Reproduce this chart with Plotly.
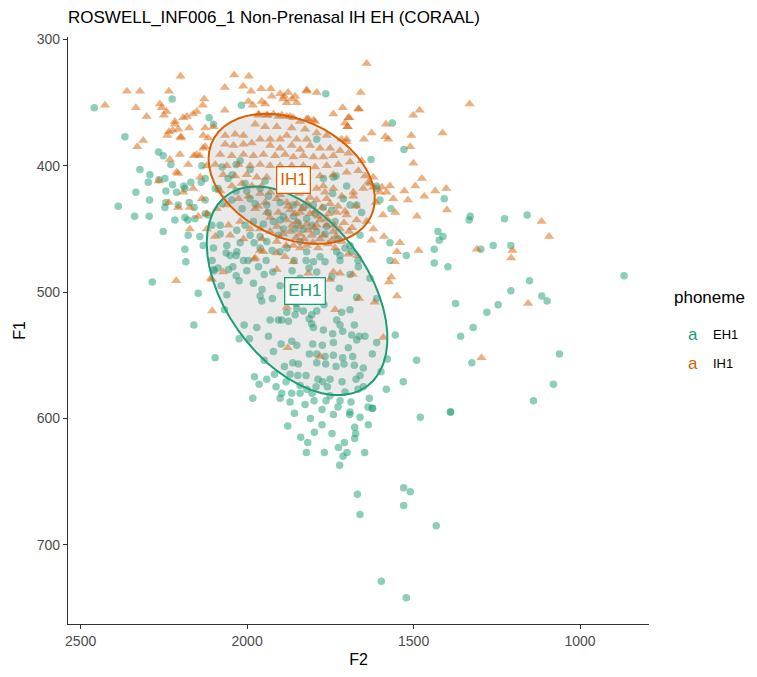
import numpy as np
import plotly.graph_objects as go

TITLE = "ROSWELL_INF006_1 Non-Prenasal IH EH (CORAAL)"
PHONEMES = ["EH1", "IH1"]
COLORS = {"EH1": "#1B9E77", "IH1": "#D95F02"}
X_TICKS = [2500, 2000, 1500, 1000]
Y_TICKS = [300, 400, 500, 600, 700]
ELLIPSE_LEVEL = 0.55

# IH1 tokens: (F2, F1) in Hz
ih_f2 = [2200, 2039, 1995, 2361, 2322, 2235, 2067, 2012, 1988, 1958, 1929, 1901, 1877, 1865, 1892, 1821, 1791,
         2427, 2334, 2262, 2257, 2242, 2302, 2250, 2129, 2133, 2151, 2181, 2192, 2067, 1996, 1965, 1939, 1906,
         1871, 1821, 1801, 1696, 1666, 1698, 2217, 2235, 2207, 2174, 2126, 2199, 2240, 2312, 2330, 2126, 2132,
         2117, 2160, 2142, 2177, 2207, 2265, 2235,
         1641, 1659, 1664, 1482, 1501, 1332, 1693, 1699, 1583, 1626, 1585, 1649, 1701, 1507, 1413, 1510, 1656,
         1501, 1475, 1646, 1621, 1631, 1571, 1595, 1495, 1528, 1581, 1435, 1402, 1468, 1517, 1613, 1555, 1400,
         1592, 1490, 1116, 1681,
         1093, 1310, 1203, 1207, 1485, 1550, 1556, 1589, 1626, 1669, 1696, 1567, 1574, 1550, 1617, 1664, 1683,
         1156, 1296, 1591,
         2172, 2213, 2105, 2072, 2106, 1878, 1881, 1979, 1951,
         2109, 1976, 1911, 1736, 1781, 1741, 1721, 1816, 1751, 1961, 1911, 1886, 1861,
         2162, 2217, 2224, 2199, 2101, 1956, 1983, 1946, 1926, 1889, 1881, 1856, 1851, 1821, 1713, 1706, 1741,
         1796, 1816, 1841, 1861, 1881, 1896, 1921, 1941, 1966, 1976, 1946, 1911, 1866, 1826, 1791, 1761, 1716,
         1701, 1576, 2066, 2036, 2011, 2066, 2041, 2011, 1986, 1961, 1931, 1901, 1881, 1851, 1821, 1931, 1901,
         1866, 1841, 1811, 1781, 1751, 1721, 1696, 1741, 1771, 1801, 1831, 1861, 1886, 1916, 1951, 1981, 2011,
         2046, 2081, 2096, 2061, 2026, 1991, 1961, 1931, 1901, 1866, 1831, 1796, 1761, 1726, 1691, 1666, 1701,
         1741, 1781, 2072, 2036, 2001, 1971, 1941, 2016, 1986, 1956, 2046, 2081, 2026, 1996, 1961, 1931, 1911,
         1881, 1851, 1821, 1791, 1761, 1791, 1771, 1741, 1716, 1681, 1651, 1636, 1621, 1601, 1561, 1976, 1941,
         1906, 1871, 1841, 1811, 1786, 1756, 1731, 1701, 1671, 1881, 1851, 1821, 1791, 1761, 1721, 1871, 1841,
         1806, 1771, 1746, 1716, 1741, 1931, 1961, 1991, 1911, 1861, 1821, 2207, 2172, 2192, 2212, 2232, 2202,
         2152, 2132, 2121, 2141, 2162, 2136, 2147, 2121, 2091, 2061, 2121, 2056, 2021, 2051, 2096, 2011, 1641,
         1621, 1541,
         1877, 1856, 1835, 1814, 1796, 1775, 1751, 1727, 1865, 1841, 1817, 1799, 1781, 1760, 1739, 1709, 1853,
         1829, 1802, 1781, 1757, 1733, 1694, 1685, 1892, 1910, 1931, 1946, 1967, 1901, 1844, 1811, 1766, 1706,
         1673, 1787, 1841, 1883, 1736, 1955]
ih_f1 = [329, 328, 329, 341, 341, 341, 338, 337, 341, 339, 339, 343, 342, 347, 347, 340, 342,
         352, 354, 351, 354, 357, 361, 360, 347, 352, 357, 361, 362, 356, 349, 359, 360, 361,
         361, 363, 364, 362, 355, 369, 367, 373, 371, 370, 370, 377, 376, 380, 385, 385, 376,
         378, 392, 392, 399, 406, 412, 429,
         319, 342, 355, 356, 360, 351, 362, 369, 367, 374, 377, 379, 379, 376, 374, 385, 396,
         398, 410, 408, 409, 414, 416, 417, 416, 420, 421, 420, 418, 424, 427, 429, 437, 435,
         439, 440, 444, 424,
         456, 466, 467, 473, 467, 468, 476, 456, 459, 471, 470, 488, 492, 503, 508, 505, 486,
         509, 552, 536,
         450, 491, 515, 484, 490, 544, 512, 474, 468,
         489, 473, 482, 514, 551, 484, 485, 485, 490, 467, 469, 472, 476,
         359, 365, 372, 378, 369, 349, 352, 351, 345, 345, 350, 345, 350, 341, 354, 366, 359,
         365, 363, 365, 362, 361, 360, 359, 360, 360, 367, 369, 369, 370, 371, 374, 376, 379,
         381, 379, 376, 375, 376, 383, 384, 383, 382, 379, 379, 379, 376, 379, 379, 384, 386,
         384, 387, 384, 386, 386, 388, 390, 392, 393, 393, 392, 393, 391, 392, 391, 392, 391,
         392, 391, 399, 400, 399, 400, 399, 400, 400, 400, 400, 401, 400, 399, 397, 404, 405,
         407, 408, 407, 408, 407, 409, 409, 414, 416, 416, 416, 420, 426, 424, 422, 421, 426,
         429, 430, 429, 427, 426, 418, 416, 418, 424, 421, 418, 413, 417, 421, 426, 434, 437,
         437, 435, 437, 438, 440, 438, 437, 439, 443, 443, 444, 446, 447, 447, 450, 452, 454,
         455, 455, 459, 460, 452, 452, 450, 450, 460, 463, 463, 433, 433, 421, 405, 395, 391,
         391, 386, 400, 409, 418, 426, 440, 438, 434, 431, 450, 447, 444, 455, 456, 458, 444,
         450, 461,
         432, 438, 434, 432, 436, 433, 430, 432, 447, 448, 451, 449, 443, 442, 447, 445, 457,
         458, 461, 458, 462, 456, 452, 449, 454, 448, 441, 429, 432, 423, 422, 425, 421, 436,
         432, 465, 465, 463, 465, 458]

# EH1 tokens: (F2, F1) in Hz
eh_f2 = [2459, 2225, 2017, 1764, 2367, 2101, 2114, 2266, 2252, 2229, 2322, 2292, 2297, 2265, 2247, 2224, 2169,
         2138, 2190, 2212, 2244, 2334, 2293, 2387, 2338, 2294, 2217, 2207, 2174, 2178, 2157, 2126, 2136, 1791,
         1733, 1771, 1743, 1711, 2021,
         1564, 1529, 1628, 1611, 1601, 1568, 1408, 1330, 1333, 1227, 1159, 1691,
         1427, 1412, 1423, 1571, 1438, 1522, 1571, 1438, 1397, 1261, 1298, 1208, 868, 1152, 1208, 1115, 1099,
         1374, 1246, 1280, 1321, 1359, 1062, 1491, 1325, 1080, 1140, 1531, 1582, 1389, 1624, 1555, 1579, 1598,
         1611, 1666, 1686,
         2252, 2187, 2184, 2285, 2147, 2160, 2096, 2101, 2078, 2061, 2024, 1983, 1901,
         2099, 2056, 2043, 2001, 1981, 1966, 1949, 1923, 1961, 1956, 1924, 2068, 2009, 1971, 1993, 2024, 1936,
         1931, 1906, 1876, 1896, 1881, 1856, 1851, 1831, 1814, 1806, 1791, 1769, 1853, 1806, 1801, 1771, 1731,
         1716, 1691, 1721, 1743, 1713, 1678, 1686, 1663, 1646, 1611, 1803, 1774, 1741, 1866, 1851, 1898, 1921,
         1949, 1813, 1791, 1766, 1741, 1713, 1683, 1696, 1671, 1624, 1863, 1846, 1888, 1871, 1848, 1823, 1791,
         1764, 1733, 1709, 1678, 1651, 1661, 1673, 1978, 1964, 1941, 1918, 1896, 1866, 1841, 1821, 1793, 1773,
         1751, 1759, 1799, 1763, 1721, 1688, 1651, 1633, 1661, 2051, 2033, 2011, 1823, 1801, 1766, 1721, 1865,
         1814, 1791, 1723, 1746, 1691, 1671, 1631,
         2187, 2159, 2244, 2247, 2187, 2177, 2142, 2106, 2081, 2117, 2081, 2132, 2061, 2001, 1961, 1991, 1936,
         2046, 1941, 1901, 1861, 1831, 1801, 1771, 1746, 1796, 1821, 1861, 1891, 1921, 1951, 1981, 2006, 2031,
         1991, 1961, 1941, 1906, 1891, 1856, 1831, 1791, 1761, 1736, 1671, 1741, 1701, 1656, 1611, 1661, 1691,
         1731, 1721, 1821, 1901, 1961, 2031, 2101,
         1858, 1810, 1741, 1692, 1623, 1878, 1775, 1798, 1839, 1818, 1745, 1677, 1674, 1677, 1708, 1636, 1726,
         1822, 1768, 1712, 1700, 1647, 1722, 1480, 1389, 1669, 1530, 1510, 1530, 1661, 1432, 1597, 1522,
         2096, 2057, 2033, 2075, 2015, 1976, 1937, 1901, 1847, 1805, 1766, 1727, 1841, 1880, 1925, 1979, 2021,
         2063, 2105, 1997, 1943, 1859, 1781, 1706, 1667, 2045, 2006, 1946, 1877, 2126, 2087, 2033, 1841, 1901,
         1775, 1955,
         1841, 1805, 1751, 1706, 1667, 1727, 1775, 1826, 1871, 1691, 1637, 1913, 1883, 1787, 1715,
         2126, 2075, 2033, 1991, 2087]
eh_f1 = [354, 347, 352, 343, 377, 367, 362, 389, 392, 399, 403, 407, 413, 411, 410, 415, 413,
         413, 416, 421, 420, 421, 427, 432, 440, 440, 443, 431, 429, 443, 442, 427, 400, 379,
         408, 410, 422, 426, 396,
         366, 387, 395, 416, 427, 434, 426, 440, 443, 442, 439, 431,
         452, 456, 459, 461, 466, 471, 475, 477, 480, 463, 466, 463, 487, 491, 499, 503, 507,
         509, 510, 516, 528, 535, 549, 554, 556, 573, 586, 571, 577, 595, 592, 534, 553, 563,
         505, 480, 468,
         452, 466, 476, 492, 501, 526, 552, 482, 495, 502, 491, 584, 584,
         483, 482, 480, 483, 493, 480, 486, 484, 503, 507, 505, 514, 526, 528, 537, 537, 535,
         522, 522, 523, 522, 516, 518, 513, 515, 521, 518, 515, 510, 509, 525, 528, 530, 522,
         516, 514, 526, 533, 531, 526, 534, 535, 535, 540, 541, 542, 540, 539, 542, 541, 547,
         554, 549, 549, 551, 550, 552, 551, 544, 538, 549, 556, 557, 559, 565, 566, 566, 556,
         557, 559, 557, 558, 560, 566, 569, 567, 573, 569, 565, 580, 580, 580, 577, 575, 571,
         569, 575, 586, 586, 586, 587, 575, 584, 599, 471, 471, 475, 475, 476, 476, 475, 483,
         481, 484, 497, 488, 486, 504, 489,
         418, 433, 429, 433, 441, 455, 456, 447, 447, 439, 454, 463, 463, 420, 418, 426, 424,
         427, 431, 429, 431, 433, 431, 433, 435, 438, 442, 440, 440, 444, 446, 444, 447, 451,
         455, 456, 460, 455, 450, 450, 450, 452, 448, 444, 431, 409, 416, 437, 418, 455, 463,
         468, 471, 468, 468, 465, 468, 465,
         596, 600, 597, 597, 592, 606, 605, 611, 615, 619, 612, 607, 612, 616, 619, 605, 623,
         627, 627, 630, 627, 627, 637, 599, 595, 660, 655, 658, 669, 676, 685, 729, 742,
         418, 410, 420, 430, 434, 430, 437, 443, 445, 447, 454, 458, 460, 465, 467, 461, 461,
         469, 475, 475, 475, 475, 472, 465, 475, 407, 414, 412, 415, 438, 481, 487, 489, 495,
         497, 498,
         574, 580, 582, 579, 577, 591, 593, 589, 587, 595, 591, 575, 571, 569, 571,
         410, 401, 399, 403, 418]

DATA = {"EH1": (eh_f2, eh_f1), "IH1": (ih_f2, ih_f1)}
SYMBOLS = {"EH1": "circle", "IH1": "triangle-up"}
FONT = "Liberation Sans, Arial"


def cov_trob(xy, nu=5, maxit=25, tol=0.01):
    """Robust multivariate-t location/scatter (MASS::cov.trob)."""
    n, p = xy.shape
    loc = xy.mean(axis=0)
    w = np.ones(n)
    X = xy - loc
    for _ in range(maxit):
        w0 = w
        X = xy - loc
        sw = np.sqrt(w / w.sum())
        _, d, vt = np.linalg.svd(sw[:, None] * X, full_matrices=False)
        wx = X @ vt.T / d
        q = (wx ** 2).sum(axis=1)
        w = (nu + p) / (nu + q)
        loc = (w[:, None] * xy).sum(axis=0) / w.sum()
        if np.all(np.abs(w - w0) < tol):
            break
    sx = np.sqrt(w)[:, None] * X
    return loc, sx.T @ sx / n


def ellipse_path(f2, f1, level, segments=51):
    xy = np.column_stack([f2, f1]).astype(float)
    n = len(xy)
    center, shape = cov_trob(xy)
    d2 = n - 1
    qf = d2 / 2 * ((1 - level) ** (-2 / d2) - 1)
    radius = np.sqrt(2 * qf)
    chol = np.linalg.cholesky(shape).T
    ang = np.linspace(0, 2 * np.pi, segments + 1)
    circ = np.column_stack([np.cos(ang), np.sin(ang)])
    pts = center + radius * circ @ chol
    return pts[:, 0], pts[:, 1]


fig = go.Figure()

for ph in PHONEMES:
    f2, f1 = DATA[ph]
    fig.add_trace(go.Scatter(
        x=f2, y=f1, mode="markers", name=ph, showlegend=False,
        marker=dict(symbol=SYMBOLS[ph], size=7.5 if ph == "EH1" else 9,
                    color=COLORS[ph], opacity=0.5, line=dict(width=0)),
    ))

for ph in PHONEMES:
    f2, f1 = DATA[ph]
    ex, ey = ellipse_path(f2, f1, ELLIPSE_LEVEL)
    fig.add_trace(go.Scatter(
        x=ex, y=ey, mode="lines", fill="toself", showlegend=False, hoverinfo="skip",
        fillcolor="rgba(128,128,128,0.17)", line=dict(color=COLORS[ph], width=2),
    ))

for ph in PHONEMES:
    f2, f1 = DATA[ph]
    fig.add_annotation(
        x=float(np.mean(f2)), y=float(np.mean(f1)), text=ph, showarrow=False,
        font=dict(family=FONT, size=17, color=COLORS[ph]),
        bgcolor="white", bordercolor=COLORS[ph], borderwidth=1.3, borderpad=3,
    )

# legend drawn as text keys
fig.add_annotation(xref="paper", yref="paper", x=1.04, y=0.556, xanchor="left", yanchor="middle",
                   text="phoneme", showarrow=False, font=dict(family=FONT, size=17, color="black"))
for i, ph in enumerate(PHONEMES):
    yy = 0.493 - i * 0.049
    fig.add_annotation(xref="paper", yref="paper", x=1.063, y=yy, xanchor="left", yanchor="middle",
                       text="a", showarrow=False, font=dict(family=FONT, size=17, color=COLORS[ph]))
    fig.add_annotation(xref="paper", yref="paper", x=1.106, y=yy, xanchor="left", yanchor="middle",
                       text=ph, showarrow=False, font=dict(family=FONT, size=13, color="black"))

axis_common = dict(showgrid=False, zeroline=False, showline=True, linecolor="#333333", linewidth=1.2,
                   ticks="outside", ticklen=4, tickcolor="#333333", tickwidth=1.2,
                   tickfont=dict(family=FONT, size=14, color="#4D4D4D"))

fig.update_layout(
    width=757, height=677,
    margin=dict(l=68, r=108, t=37, b=48),
    plot_bgcolor="white", paper_bgcolor="white",
    title=dict(text=TITLE, x=0, xref="paper", xanchor="left", y=0.975, yanchor="middle",
               font=dict(family=FONT, size=17, color="black")),
    xaxis=dict(range=[2538, 793], tickvals=X_TICKS,
               title=dict(text="F2", standoff=5, font=dict(family=FONT, size=16, color="black")),
               **axis_common),
    yaxis=dict(range=[762.8, 298], tickvals=Y_TICKS,
               title=dict(text="F1", standoff=7, font=dict(family=FONT, size=16, color="black")),
               **axis_common),
)

fig.write_html("out.html")
